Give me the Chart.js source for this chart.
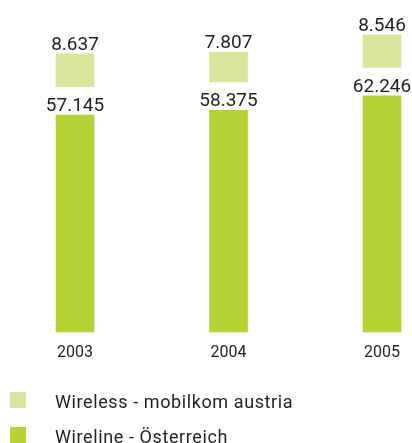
<!DOCTYPE html>
<html>
<head>
<meta charset="utf-8">
<script src="https://cdn.jsdelivr.net/npm/chart.js@4.4.0/dist/chart.umd.min.js"></script>
<style>
  html, body { margin: 0; padding: 0; background: #fff; }
  #wrap { width: 412px; height: 443px; }
</style>
</head>
<body>
<div id="wrap"><canvas id="cvs" width="412" height="443"></canvas></div>
<script>
//-------------------------------------------------------------------
// data
//-------------------------------------------------------------------
const years = ['2003', '2004', '2005'];
const wirelineValues = [57.145, 58.375, 62.246];
const wirelessValues = [8.637, 7.807, 8.546];
const seriesNames = ['Wireline - Österreich', 'Wireless - mobilkom austria'];
const seriesColors = ['#b5d334', '#d8e59c'];

//-------------------------------------------------------------------
// styling
//-------------------------------------------------------------------
const GAP = 7.5;            // white space between the two blocks, value units
const TEXT_COLOR = '#231f20';
const FONT = 'Roboto, "Open Sans", sans-serif';

// wireless block floats above the wireline block, leaving room for its label
const wirelessRanges = wirelessValues.map((v, i) => {
  const base = wirelineValues[i] + GAP;
  return [base, base + v];
});

//-------------------------------------------------------------------
// plugins
//-------------------------------------------------------------------
const valueLabels = {
  id: 'valueLabels',
  afterDatasetsDraw(chart) {
    const ctx = chart.ctx;
    ctx.save();
    ctx.font = '19px ' + FONT;
    ctx.fillStyle = TEXT_COLOR;
    ctx.textAlign = 'center';
    ctx.textBaseline = 'alphabetic';
    chart.data.datasets.forEach((ds, di) => {
      const meta = chart.getDatasetMeta(di);
      meta.data.forEach((bar, i) => {
        ctx.fillText(ds.valueText[i], bar.x, bar.y - 4);
      });
    });
    ctx.restore();
  }
};

// stacked legend, top row is the upper block
const listLegend = {
  id: 'listLegend',
  afterDraw(chart) {
    const ctx = chart.ctx;
    const order = [1, 0];
    ctx.save();
    ctx.font = '18px ' + FONT;
    ctx.letterSpacing = '0.6px';
    ctx.textAlign = 'left';
    ctx.textBaseline = 'alphabetic';
    order.forEach((di, row) => {
      const ds = chart.data.datasets[di];
      const top = 392 + row * 35;
      ctx.fillStyle = ds.backgroundColor;
      ctx.fillRect(10, top, 16, 16);
      ctx.fillStyle = TEXT_COLOR;
      ctx.fillText(ds.label, 55, top + 16);
    });
    ctx.restore();
  }
};

//-------------------------------------------------------------------
// chart
//-------------------------------------------------------------------
new Chart(document.getElementById('cvs').getContext('2d'), {
  type: 'bar',
  data: {
    labels: years,
    datasets: [
      {
        label: seriesNames[0],
        data: wirelineValues,
        valueText: wirelineValues.map(v => v.toFixed(3)),
        backgroundColor: seriesColors[0],
        barThickness: 38,
        grouped: false,
        clip: false
      },
      {
        label: seriesNames[1],
        data: wirelessRanges,
        valueText: wirelessValues.map(v => v.toFixed(3)),
        backgroundColor: seriesColors[1],
        barThickness: 38,
        grouped: false,
        clip: false
      }
    ]
  },
  options: {
    responsive: false,
    animation: false,
    layout: { padding: { left: 75, right: 27, top: 0, bottom: 68 } },
    plugins: {
      legend: { display: false },
      tooltip: { enabled: false },
      title: { display: false }
    },
    scales: {
      x: {
        offset: false,
        grid: { display: false, drawTicks: false },
        border: { display: false },
        ticks: {
          color: TEXT_COLOR,
          font: { family: FONT, size: 16 },
          padding: 12,
          maxRotation: 0,
          autoSkip: false
        }
      },
      y: {
        display: false,
        min: 0,
        max: 87.5
      }
    }
  },
  plugins: [valueLabels, listLegend]
});
</script>
</body>
</html>
